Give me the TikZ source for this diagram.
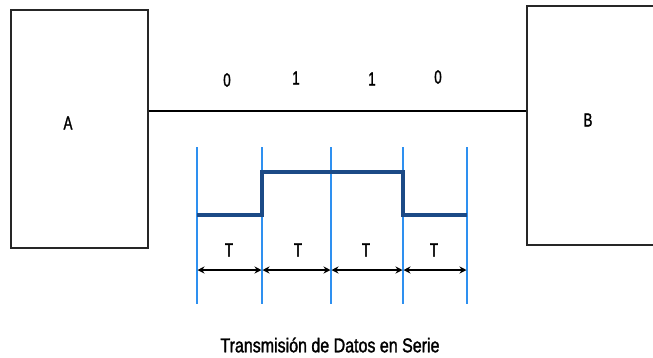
\documentclass[tikz,border=0pt]{standalone}
\usepackage{fontspec}
\setmainfont{Liberation Sans}
\newfontfamily\condfont[FakeStretch=0.7,FakeBold=1.5]{Liberation Sans}
\newfontfamily\capfont[FakeStretch=0.8,FakeBold=1.5]{Liberation Sans}
\usetikzlibrary{arrows.meta}
\definecolor{gridblue}{HTML}{2E90F0}
\definecolor{sigblue}{HTML}{1C4A86}
\tikzset{
  box/.style={draw=black!85, line width=1.8pt, inner sep=0pt},
  lbl/.style={font=\condfont\fontsize{19}{19}\selectfont, inner sep=0pt},
  captiontext/.style={font=\capfont\fontsize{20}{20}\selectfont, inner sep=0pt},
  gridline/.style={draw=gridblue, line width=1.6pt},
  signal/.style={draw=sigblue, line width=3.4pt, line join=miter},
  dim/.style={draw=black, line width=1.3pt, {Stealth[length=7pt,width=7pt]}-{Stealth[length=7pt,width=7pt]}, shorten <=0.5pt, shorten >=0.5pt}
}
\begin{document}
\begin{tikzpicture}[x=1pt,y=-1pt]
\clip (0,0) rectangle (653,357);
\fill[white] (0,0) rectangle (653,357);
% boxes
\node[box, minimum width=137pt, minimum height=238pt] (A) at (79.5,129) {};
\node[box, minimum width=140pt, minimum height=239pt] (B) at (597,125.5) {};
\node[lbl] (Alab) at (68,123) {A};
\node[lbl] (Blab) at (588,120) {B};
% link
\draw[black, line width=1.6pt] (A.east |- 0,111) -- (B.west |- 0,111);
% bits
\node[lbl] (b1) at (227,80) {0};
\node[lbl] (b2) at (296,78) {1};
\node[lbl] (b3) at (372,79) {1};
\node[lbl] (b4) at (438,77) {0};
% grid lines
\foreach \i/\x in {1/197,2/262,3/331,4/403,5/467}{
  \coordinate (t\i) at (\x,147);
  \coordinate (u\i) at (\x,304);
  \coordinate (m\i) at (\x,270);
  \draw[gridline] (t\i) -- (u\i);
}
% signal
\draw[signal] (197,215) -- (262,215) -- (262,172) -- (403,172) -- (403,215) -- (467,215);
% dimension arrows
\draw[dim] (m1) -- (m2);
\draw[dim] (m2) -- (m3);
\draw[dim] (m3) -- (m4);
\draw[dim] (m4) -- (m5);
% T labels
\node[lbl] (T1) at (229,250) {T};
\node[lbl] (T2) at (298,250) {T};
\node[lbl] (T3) at (366,250) {T};
\node[lbl] (T4) at (434,250) {T};
% caption
\node[captiontext] (caption) at (330,345) {Transmisión de Datos en Serie};
\end{tikzpicture}
\end{document}
